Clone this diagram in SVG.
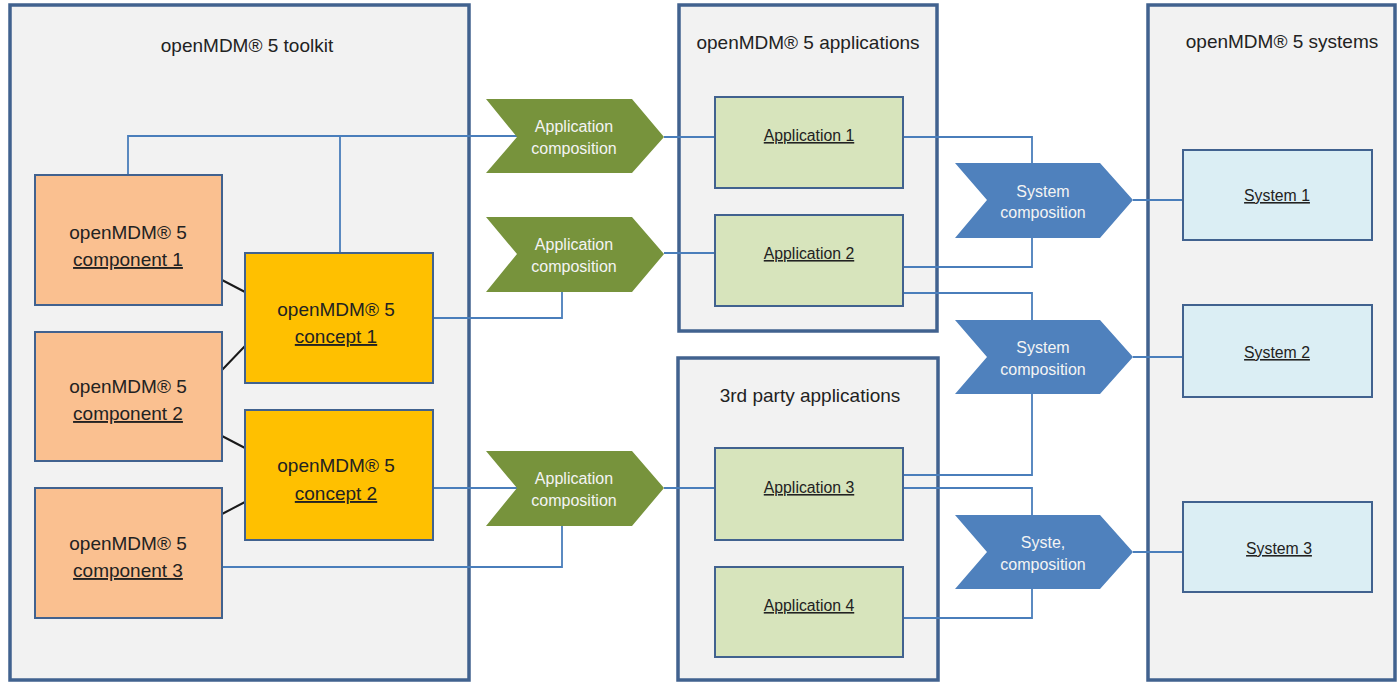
<svg xmlns="http://www.w3.org/2000/svg" width="1397" height="683" viewBox="0 0 1397 683">
<style>
.cont{fill:#f2f2f2;stroke:#41628f;stroke-width:3.5}
.comp{fill:#fac090;stroke:#41628f;stroke-width:2}
.conc{fill:#ffc000;stroke:#41628f;stroke-width:2}
.app{fill:#d7e4bc;stroke:#41628f;stroke-width:2}
.sys{fill:#dbeef4;stroke:#41628f;stroke-width:2}
.achev{fill:#77933c}
.schev{fill:#4f81bd}
.t{font-family:"Liberation Sans",Arial,sans-serif;fill:#222;text-anchor:middle}
.big{font-size:19px}
.sm{font-size:15.8px}
.cv{font-size:16px}
.u{text-decoration:underline}
.w{fill:#f4f4f4}
.con{fill:none;stroke:#4a7ebb;stroke-width:1.8}
.blk{fill:none;stroke:#1a1a1a;stroke-width:2}
</style>
<rect width="1397" height="683" fill="#ffffff"/>
<g id="toolkit">
<rect class="cont" x="10" y="5" width="459" height="675"/>
<text class="t big" x="247" y="52">openMDM® 5 toolkit</text>
</g>
<g id="applications">
<rect class="cont" x="679" y="5" width="258" height="326"/>
<text class="t big" x="808" y="49">openMDM® 5 applications</text>
</g>
<g id="thirdparty">
<rect class="cont" x="678" y="358" width="260" height="322"/>
<text class="t big" x="810" y="402">3rd party applications</text>
</g>
<g id="systems">
<rect class="cont" x="1148" y="5" width="247" height="675"/>
<text class="t big" x="1282" y="48">openMDM® 5 systems</text>
</g>
<g id="connectors">
<path class="con" d="M128,175 V136 H517 M340,136 V253"/>
<path class="con" d="M433,318 H562 V292"/>
<path class="con" d="M433,488 H517"/>
<path class="con" d="M222,567 H562 V526"/>
<path class="con" d="M664,137 H715 M664,253 H715 M664,488 H715"/>
<path class="con" d="M903,137 H1032 V163 M903,267 H1032 V238"/>
<path class="con" d="M903,293 H1032 V320 M903,475 H1032 V394"/>
<path class="con" d="M903,488 H1032 V515 M903,618 H1032 V589"/>
<path class="con" d="M1133,200 H1183 M1133,357 H1183 M1133,552 H1183"/>
<path class="blk" d="M222,280 L245,292 M222,370 L245,346 M222,436 L245,448 M222,514 L245,502"/>
</g>
<g id="component1">
<rect class="comp" x="35" y="175" width="187" height="130"/>
<text class="t big" x="128" y="239">openMDM® 5</text>
<text class="t big u" x="128" y="266">component 1</text>
</g>
<g id="component2">
<rect class="comp" x="35" y="332" width="187" height="129"/>
<text class="t big" x="128" y="393">openMDM® 5</text>
<text class="t big u" x="128" y="420">component 2</text>
</g>
<g id="component3">
<rect class="comp" x="35" y="488" width="187" height="130"/>
<text class="t big" x="128" y="550">openMDM® 5</text>
<text class="t big u" x="128" y="577">component 3</text>
</g>
<g id="concept1">
<rect class="conc" x="245" y="253" width="188" height="130"/>
<text class="t big" x="336" y="316">openMDM® 5</text>
<text class="t big u" x="336" y="343">concept 1</text>
</g>
<g id="concept2">
<rect class="conc" x="245" y="410" width="188" height="130"/>
<text class="t big" x="336" y="472">openMDM® 5</text>
<text class="t big u" x="336" y="500">concept 2</text>
</g>
<g id="appcomp1">
<polygon class="achev" points="486,99 632,99 664,137 632,173 486,173 517,137"/>
<text class="t cv w" x="574" y="132">Application</text>
<text class="t cv w" x="574" y="154">composition</text>
</g>
<g id="appcomp2">
<polygon class="achev" points="486,217 632,217 664,254 632,292 486,292 517,254"/>
<text class="t cv w" x="574" y="250">Application</text>
<text class="t cv w" x="574" y="272">composition</text>
</g>
<g id="appcomp3">
<polygon class="achev" points="486,451 632,451 664,488 632,526 486,526 517,488"/>
<text class="t cv w" x="574" y="484">Application</text>
<text class="t cv w" x="574" y="506">composition</text>
</g>
<g id="app1">
<rect class="app" x="715" y="97" width="188" height="91"/>
<text class="t sm u" x="809" y="141">Application 1</text>
</g>
<g id="app2">
<rect class="app" x="715" y="215" width="188" height="91"/>
<text class="t sm u" x="809" y="259">Application 2</text>
</g>
<g id="app3">
<rect class="app" x="715" y="448" width="188" height="92"/>
<text class="t sm u" x="809" y="493">Application 3</text>
</g>
<g id="app4">
<rect class="app" x="715" y="567" width="188" height="90"/>
<text class="t sm u" x="809" y="611">Application 4</text>
</g>
<g id="syscomp1">
<polygon class="schev" points="955,163 1100,163 1133,200 1100,238 955,238 987,200"/>
<text class="t cv w" x="1043" y="197">System</text>
<text class="t cv w" x="1043" y="218">composition</text>
</g>
<g id="syscomp2">
<polygon class="schev" points="955,320 1100,320 1133,357 1100,394 955,394 987,357"/>
<text class="t cv w" x="1043" y="353">System</text>
<text class="t cv w" x="1043" y="375">composition</text>
</g>
<g id="syscomp3">
<polygon class="schev" points="955,515 1100,515 1133,552 1100,589 955,589 987,552"/>
<text class="t cv w" x="1043" y="548">Syste,</text>
<text class="t cv w" x="1043" y="570">composition</text>
</g>
<g id="system1">
<rect class="sys" x="1183" y="150" width="189" height="90"/>
<text class="t sm u" x="1277" y="201">System 1</text>
</g>
<g id="system2">
<rect class="sys" x="1183" y="305" width="189" height="92"/>
<text class="t sm u" x="1277" y="358">System 2</text>
</g>
<g id="system3">
<rect class="sys" x="1183" y="502" width="189" height="90"/>
<text class="t sm u" x="1279" y="554">System 3</text>
</g>
</svg>
